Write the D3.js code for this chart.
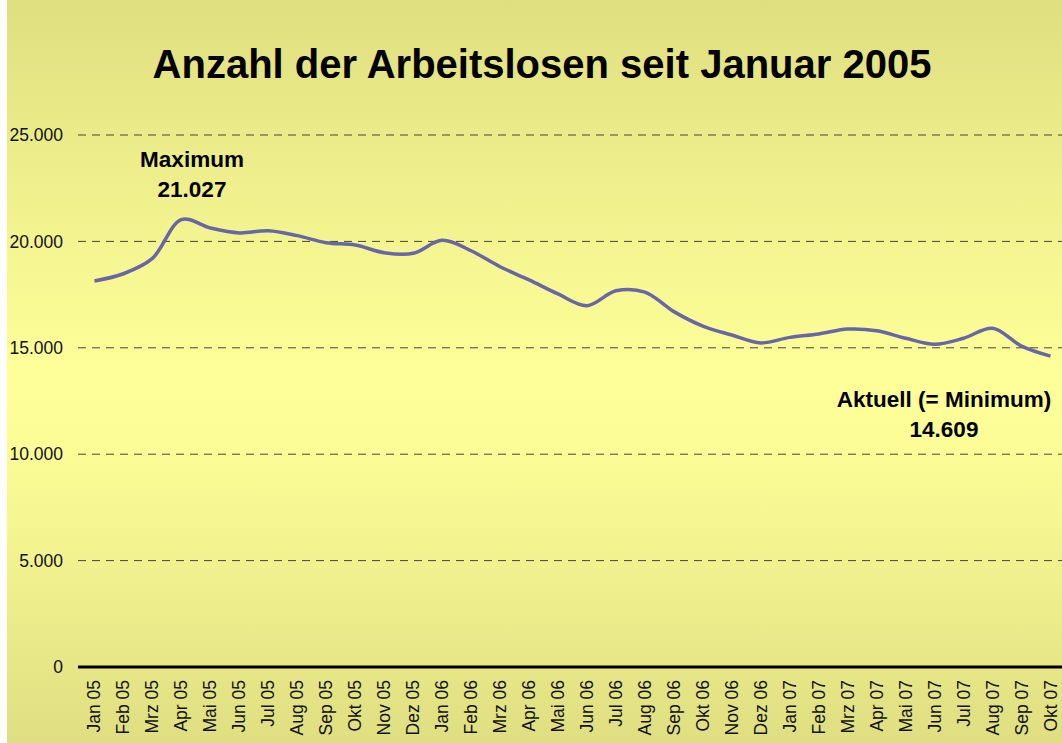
<!DOCTYPE html>
<html>
  <head>
    <meta charset="utf-8">
    <title>Anzahl der Arbeitslosen</title>
    <style>
      body { margin: 0; background: #fff; }
      svg { display: block; font-family: "Liberation Sans", Arial, sans-serif; }
    </style>
  </head>
  <body>
    <svg id="chart" width="1062" height="743"></svg>
    <script src="https://d3js.org/d3.v7.min.js"></script>
    <script>
      const months = [
        'Jan 05', 'Feb 05', 'Mrz 05', 'Apr 05', 'Mai 05', 'Jun 05', 'Jul 05', 'Aug 05', 'Sep 05', 'Okt 05', 'Nov 05', 'Dez 05',
        'Jan 06', 'Feb 06', 'Mrz 06', 'Apr 06', 'Mai 06', 'Jun 06', 'Jul 06', 'Aug 06', 'Sep 06', 'Okt 06', 'Nov 06', 'Dez 06',
        'Jan 07', 'Feb 07', 'Mrz 07', 'Apr 07', 'Mai 07', 'Jun 07', 'Jul 07', 'Aug 07', 'Sep 07', 'Okt 07'
      ]
      const values = [
        18140, 18480, 19200, 21027, 20630, 20400, 20500, 20270, 19940, 19830, 19470, 19440,
        20050, 19560, 18810, 18190, 17530, 16980, 17680, 17620, 16700, 16020, 15600, 15230,
        15490, 15650, 15880, 15800, 15450, 15170, 15450, 15920, 15080, 14609
      ]
      const yTicks = [0, 5000, 10000, 15000, 20000, 25000]

      const width = 1062
      const height = 743
      const margin = { top: 135, right: -3, bottom: 76, left: 80 }
      const fmt = d3.format(',')
      const de = v => fmt(v).replace(/,/g, '.')

      const svg = d3.select('#chart')

      // background gradient
      const grad = svg.append('defs').append('linearGradient')
        .attr('id', 'bg').attr('x1', 0).attr('y1', 0).attr('x2', 0).attr('y2', 1)
      grad.append('stop').attr('offset', '0%').attr('stop-color', '#dfdf80')
      grad.append('stop').attr('offset', '50%').attr('stop-color', '#ffff99')
      grad.append('stop').attr('offset', '60%').attr('stop-color', '#fdfd97')
      grad.append('stop').attr('offset', '100%').attr('stop-color', '#dfdf82')
      svg.append('rect')
        .attr('x', 7).attr('y', 0)
        .attr('width', width - 7).attr('height', height)
        .attr('fill', 'url(#bg)')

      const x = d3.scaleBand()
        .domain(months)
        .range([margin.left, width - margin.right])
      const y = d3.scaleLinear()
        .domain([0, 25000])
        .range([height - margin.bottom, margin.top])

      // gridlines
      svg.append('g')
        .selectAll('line')
        .data(yTicks.filter(d => d > 0))
        .join('line')
          .attr('x1', 78).attr('x2', width)
          .attr('y1', d => y(d)).attr('y2', d => y(d))
          .attr('stroke', '#444')
          .attr('stroke-width', 1)
          .attr('stroke-dasharray', '8,6')

      // y axis labels
      svg.append('g')
        .selectAll('text')
        .data(yTicks)
        .join('text')
          .attr('x', 63)
          .attr('y', d => y(d))
          .attr('dy', '0.35em')
          .attr('text-anchor', 'end')
          .attr('font-size', 17.5)
          .attr('fill', '#111')
          .text(d => de(d))

      // zero line
      svg.append('line')
        .attr('x1', 78).attr('x2', width)
        .attr('y1', y(0)).attr('y2', y(0))
        .attr('stroke', '#000')
        .attr('stroke-width', 3)

      // x labels
      svg.append('g')
        .selectAll('text')
        .data(months)
        .join('text')
          .attr('transform', d => `translate(${x(d) + x.bandwidth() / 2 + 6},${y(0) + 13}) rotate(-90)`)
          .attr('text-anchor', 'end')
          .attr('font-size', 17.5)
          .attr('fill', '#111')
          .text(d => d)

      // line
      const line = d3.line()
        .x((d, i) => x(months[i]) + x.bandwidth() / 2)
        .y(d => y(d))
        .curve(d3.curveCatmullRom.alpha(0.5))
      svg.append('path')
        .datum(values)
        .attr('d', line)
        .attr('fill', 'none')
        .attr('stroke', '#6767a8')
        .attr('stroke-width', 3.5)
        .attr('stroke-linejoin', 'round')

      // title
      svg.append('text')
        .attr('x', 542).attr('y', 78)
        .attr('text-anchor', 'middle')
        .attr('font-size', 40)
        .attr('font-weight', 'bold')
        .attr('fill', '#000')
        .text('Anzahl der Arbeitslosen seit Januar 2005')

      // annotations
      const iMax = values.indexOf(d3.max(values))
      const iLast = values.length - 1
      const notes = [
        { lines: ['Maximum', de(values[iMax])], x: 192, y: 167 },
        { lines: ['Aktuell (= Minimum)', de(values[iLast])], x: 944, y: 407 }
      ]
      notes.forEach(n => {
        svg.append('text')
          .attr('x', n.x).attr('y', n.y)
          .attr('text-anchor', 'middle')
          .attr('font-size', 22.5)
          .attr('font-weight', 'bold')
          .selectAll('tspan')
          .data(n.lines)
          .join('tspan')
            .attr('x', n.x)
            .attr('dy', (d, i) => i === 0 ? 0 : 30)
            .text(d => d)
      })
    </script>
  </body>
</html>
